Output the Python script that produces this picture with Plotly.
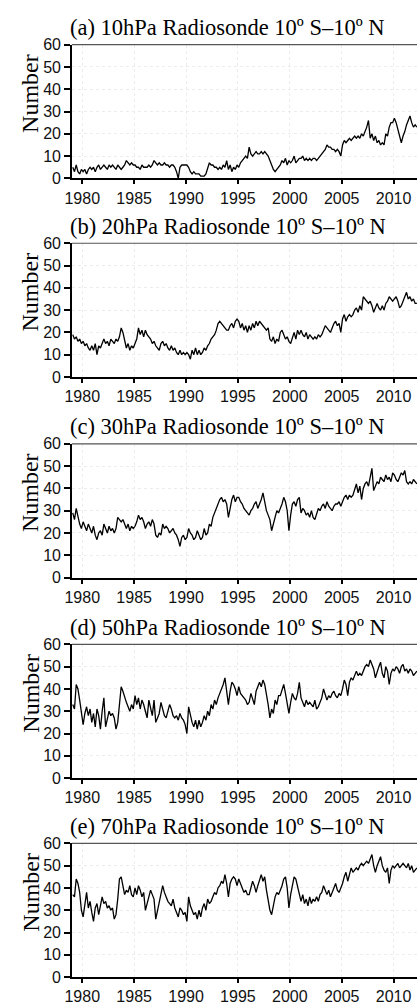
import plotly.graph_objects as go

# Monthly-count series sampled every two months, starting Jan-Feb 1979.
# Six values per year, 1979-2011, plus two for early 2012.
n10 = [
    5, 3, 6, 3, 2, 4,   3, 4, 2, 4, 5, 4,   5, 3, 5, 6, 4, 5,   6, 5, 4, 6, 5, 6,
    5, 4, 6, 5, 4, 5,   6, 8, 7, 6, 7, 6,   6, 5, 5, 4, 6, 5,   5, 5, 6, 5, 6, 8,
    7, 6, 7, 6, 6, 7,   6, 6, 5, 6, 6, 5,   3, 0, 5, 6, 6, 6,   6, 5, 3, 2, 3, 2,
    2, 2, 1, 1, 1, 2,   5, 7, 6, 6, 5, 5,   4, 5, 4, 6, 5, 8,   4, 6, 3, 5, 4, 6,
    5, 7, 8, 9, 10, 9,  14, 11, 10, 11, 12, 11,  11, 12, 11, 12, 11, 10,  8, 6, 4, 3, 4, 5,
    6, 8, 7, 9, 6, 8,   7, 8, 10, 7, 8, 9,  9, 10, 8, 9, 8, 9,  8, 9, 9, 8, 9, 10,
    11, 12, 13, 15, 14, 14,  13, 13, 12, 13, 12, 10,  15, 17, 16, 17, 18, 17,  18, 19, 18, 19, 18, 20,
    19, 21, 23, 26, 18, 20,  17, 19, 16, 17, 15, 16,  15, 20, 19, 23, 25, 25,  27, 25, 22, 20, 16, 19,
    21, 24, 26, 28, 25, 23,  24, 23,
]
n20 = [
    19, 17, 18, 16, 17, 15,  16, 14, 15, 13, 12, 14,  12, 15, 10, 14, 13, 15,  17, 15, 16, 14, 17, 16,
    15, 17, 16, 18, 22, 20,  16, 13, 15, 12, 14, 13,  15, 17, 22, 19, 21, 18,  21, 19, 18, 17, 15, 16,
    14, 13, 12, 15, 16, 14,  15, 13, 12, 14, 12, 13,  11, 10, 12, 10, 11, 10,  11, 10, 8, 12, 10, 13,
    10, 12, 10, 11, 13, 12,  14, 15, 17, 18, 19, 21,  24, 25, 24, 23, 22, 21,  21, 23, 24, 22, 25, 26,
    25, 22, 24, 21, 23, 20,  23, 21, 24, 22, 25, 23,  25, 24, 23, 22, 21, 22,  17, 16, 18, 15, 17, 16,
    20, 21, 19, 17, 18, 16,  15, 18, 20, 17, 21, 19,  21, 19, 18, 20, 17, 19,  18, 17, 18, 17, 19, 18,
    19, 21, 23, 22, 21, 20,  22, 24, 25, 23, 24, 20,  26, 28, 25, 27, 28, 27,  28, 30, 31, 29, 32, 30,
    36, 35, 34, 33, 34, 32,  29, 31, 33, 31, 30, 32,  30, 33, 34, 36, 35, 34,  35, 36, 34, 31, 32, 34,
    36, 38, 35, 36, 34, 35,  33, 33,
]
n30 = [
    29, 26, 31, 27, 24, 22,  25, 23, 21, 24, 22, 20,  23, 19, 17, 20, 21, 19,  24, 22, 20, 23, 21, 22,
    20, 22, 27, 26, 25, 26,  24, 22, 24, 21, 23, 22,  23, 25, 28, 26, 27, 25,  22, 24, 25, 23, 26, 24,
    19, 18, 20, 19, 24, 22,  23, 22, 20, 21, 22, 20,  19, 17, 14, 18, 19, 17,  18, 22, 20, 19, 17, 18,
    21, 19, 17, 18, 22, 19,  20, 24, 23, 27, 29, 31,  33, 35, 36, 34, 35, 33,  27, 32, 35, 37, 34, 36,
    36, 34, 33, 31, 30, 29,  28, 30, 31, 33, 34, 31,  33, 35, 38, 33, 30, 28,  26, 21, 24, 27, 30, 29,
    31, 33, 36, 34, 30, 21,  28, 33, 34, 32, 35, 36,  29, 31, 30, 28, 29, 27,  30, 27, 26, 29, 31, 30,
    32, 33, 31, 34, 32, 31,  30, 32, 33, 33, 34, 32,  34, 36, 37, 35, 37, 36,  37, 40, 42, 38, 41, 35,
    40, 42, 43, 41, 45, 49,  39, 41, 43, 42, 45, 44,  43, 46, 44, 45, 43, 47,  46, 44, 43, 45, 47, 46,
    48, 43, 42, 43, 42, 44,  43, 42,
]
n50 = [
    33, 31, 42, 40, 35, 29,  24, 29, 32, 28, 31, 25,  29, 23, 31, 28, 22, 30,  36, 23, 27, 30, 28, 29,
    27, 22, 25, 34, 41, 39,  36, 34, 32, 30, 33, 31,  37, 33, 36, 31, 35, 33,  30, 27, 35, 31, 28, 35,
    25, 27, 29, 34, 31, 28,  27, 30, 33, 31, 28, 27,  28, 26, 29, 27, 26, 24,  20, 32, 28, 25, 23, 26,
    22, 26, 23, 25, 28, 26,  30, 28, 33, 31, 35, 33,  36, 38, 40, 42, 45, 40,  33, 39, 43, 42, 40, 37,
    41, 38, 37, 36, 35, 33,  34, 38, 35, 33, 39, 41,  43, 41, 44, 42, 38, 33,  27, 31, 29, 35, 33, 37,
    37, 40, 42, 38, 34, 29,  34, 38, 36, 35, 38, 43,  36, 34, 32, 35, 33, 34,  33, 32, 35, 31, 32, 34,
    36, 40, 37, 35, 37, 36,  38, 39, 37, 36, 38, 37,  40, 44, 42, 37, 43, 45,  44, 46, 48, 46, 47, 46,
    48, 50, 51, 50, 53, 51,  49, 45, 48, 50, 52, 47,  45, 50, 48, 42, 47, 49,  48, 50, 49, 47, 50, 51,
    48, 49, 47, 49, 48, 46,  47, 48,
]
n70 = [
    37, 36, 44, 42, 38, 30,  27, 33, 38, 31, 34, 29,  25, 31, 33, 28, 32, 36,  33, 34, 31, 32, 30, 31,
    26, 28, 35, 44, 45, 40,  37, 39, 38, 41, 37, 36,  40, 37, 41, 39, 36, 38,  30, 33, 36, 39, 37, 35,
    26, 30, 33, 37, 41, 38,  36, 34, 33, 32, 35, 31,  29, 27, 31, 30, 28, 29,  25, 36, 32, 30, 28, 29,
    26, 30, 27, 31, 33, 30,  35, 33, 34, 36, 38, 37,  40, 41, 43, 42, 46, 42,  36, 42, 44, 45, 44, 41,
    44, 42, 40, 38, 39, 37,  37, 40, 43, 41, 38, 41,  44, 46, 43, 45, 39, 34,  30, 28, 32, 36, 38, 37,
    39, 41, 44, 45, 40, 31,  37, 42, 45, 44, 41, 37,  34, 37, 33, 35, 32, 36,  33, 35, 34, 36, 34, 37,
    38, 41, 39, 37, 39, 36,  38, 40, 42, 39, 38, 40,  42, 45, 47, 43, 46, 49,  47, 48, 49, 48, 50, 51,
    50, 51, 52, 51, 53, 55,  50, 47, 50, 52, 54, 50,  48, 47, 49, 42, 48, 50,  49, 50, 51, 49, 50, 51,
    50, 49, 51, 48, 50, 47,  48, 49,
]

levels = ["10hPa", "20hPa", "30hPa", "50hPa", "70hPa"]
letters = ["a", "b", "c", "d", "e"]
series = [n10, n20, n30, n50, n70]
year_ticks = [1980, 1985, 1990, 1995, 2000, 2005, 2010]
y_ticks = [0, 10, 20, 30, 40, 50, 60]

# Time coordinate: centre of each two-month sample
t = [1979 + (i + 0.5) / 6 for i in range(len(n10))]

W, H = 417, 1008
left_px = 66
bottom_px = [173.3, 375.3, 579.3, 783.3, 985.7]
panel_h = 136

fig = go.Figure()
tick_font = dict(family="Liberation Sans, Arial, sans-serif", size=16, color="#111111")
serif = "Liberation Serif, Times New Roman, serif"
grid_col = "#ececec"

for k, (lev, let, vals) in enumerate(zip(levels, letters, series)):
    ax = "" if k == 0 else str(k + 1)
    fig.add_trace(go.Scatter(
        x=t, y=vals, mode="lines",
        line=dict(color="black", width=1.3),
        xaxis="x" + ax, yaxis="y" + ax, showlegend=False,
        hoverinfo="skip",
    ))
    y0 = 1 - bottom_px[k] / H
    y1 = 1 - (bottom_px[k] - panel_h) / H
    fig.layout["xaxis" + ax] = dict(
        domain=[left_px / W, 1.0], range=[1979.0, 2012.26],
        anchor="y" + ax,
        tickvals=year_ticks, ticks="outside", ticklen=4, tickwidth=1.5,
        tickcolor="black", tickfont=tick_font,
        showline=True, linecolor="black", linewidth=2,
        showgrid=True, gridcolor=grid_col, gridwidth=1, griddash="dot",
        zeroline=False,
    )
    fig.layout["yaxis" + ax] = dict(
        domain=[y0, y1], range=[0, 60], anchor="x" + ax,
        tickvals=y_ticks, ticks="outside", ticklen=6, tickwidth=1.5,
        tickcolor="black", tickfont=tick_font,
        showline=True, linecolor="black", linewidth=1.5,
        showgrid=True, gridcolor=grid_col, gridwidth=1, griddash="dot",
        zeroline=False,
    )
    # top frame line
    fig.add_shape(type="line", xref="x" + ax + " domain", yref="y" + ax + " domain",
                  x0=0, x1=1, y0=1, y1=1, line=dict(color="#555555", width=1.2))
    # panel title
    fig.add_annotation(
        text=f"({let}) {lev} Radiosonde 10º S–10º N",
        xref="paper", yref="paper", x=62 / W, xanchor="left",
        y=1 - (bottom_px[k] - panel_h - 17.5) / H, yanchor="middle",
        showarrow=False, font=dict(family=serif, size=22.5, color="black"),
    )
    # y-axis label
    fig.add_annotation(
        text="Number", textangle=-90,
        xref="paper", yref="paper", x=23.5 / W, xanchor="center",
        y=1 - (bottom_px[k] - panel_h / 2 - 18) / H, yanchor="middle",
        showarrow=False, font=dict(family=serif, size=24, color="black"),
    )

fig.update_layout(
    width=W, height=H,
    margin=dict(l=0, r=0, t=0, b=0),
    paper_bgcolor="white", plot_bgcolor="white",
)

fig.write_html("out.html")
